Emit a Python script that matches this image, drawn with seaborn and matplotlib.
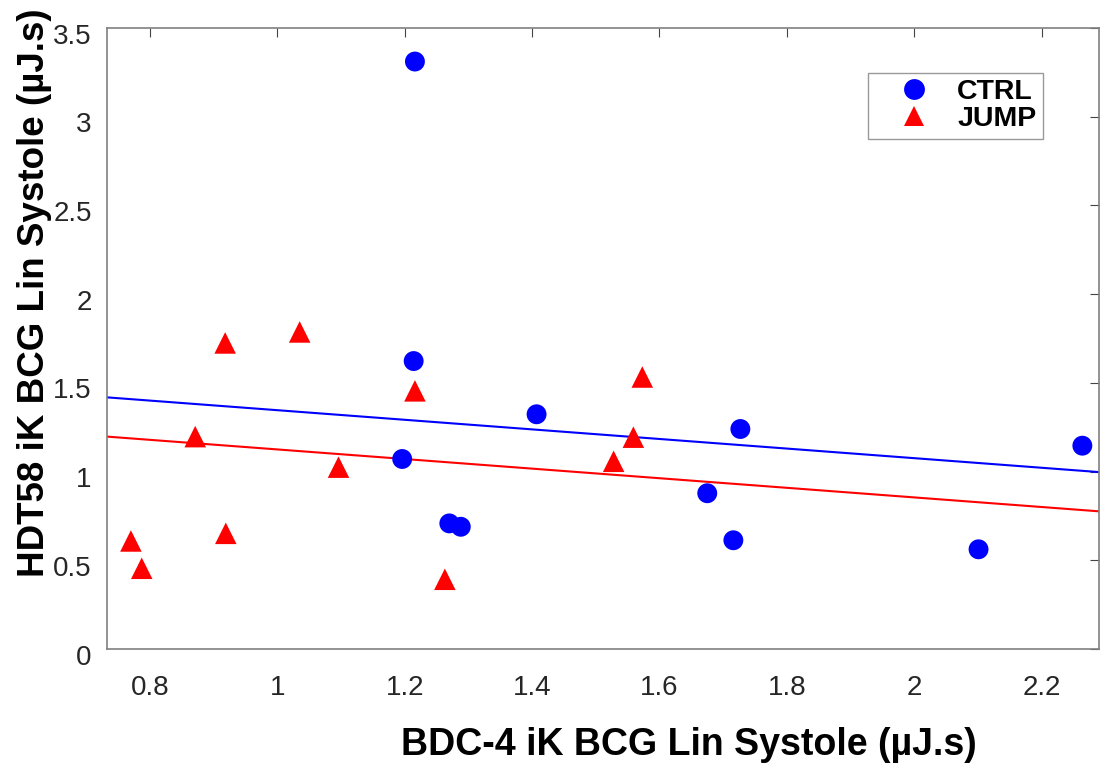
import numpy as np
import pandas as pd
import matplotlib
matplotlib.use("Agg")
import matplotlib.pyplot as plt
import matplotlib.transforms as mtransforms
from matplotlib.lines import Line2D
import seaborn as sns

# ---- data ----
ctrl_x = [1.216, 1.214, 1.196, 1.270, 1.288, 1.407, 1.675, 1.716, 1.727, 2.101, 2.264]
ctrl_y = [3.311, 1.623, 1.071, 0.708, 0.689, 1.323, 0.878, 0.613, 1.240, 0.562, 1.146]
jump_x = [0.918, 1.035, 1.216, 0.871, 1.096, 0.770, 0.787, 0.919, 1.263, 1.573, 1.559, 1.528]
jump_y = [1.725, 1.787, 1.455, 1.197, 1.025, 0.609, 0.455, 0.652, 0.393, 1.533, 1.194, 1.058]
groups = ["CTRL", "JUMP"]
x_ticks = [0.8, 1.0, 1.2, 1.4, 1.6, 1.8, 2.0, 2.2]
x_tick_labels = ["0.8", "1", "1.2", "1.4", "1.6", "1.8", "2", "2.2"]
y_ticks = [0, 0.5, 1, 1.5, 2, 2.5, 3, 3.5]
y_tick_labels = ["0", "0.5", "1", "1.5", "2", "2.5", "3", "3.5"]
x_label = "BDC-4 iK BCG Lin Systole (µJ.s)"
y_label = "HDT58 iK BCG Lin Systole (µJ.s)"

df = pd.DataFrame({
    "x": ctrl_x + jump_x,
    "y": ctrl_y + jump_y,
    "group": ["CTRL"] * len(ctrl_x) + ["JUMP"] * len(jump_x),
})

sns.set_theme(style="white")
plt.rcParams["font.family"] = ["Liberation Sans", "DejaVu Sans"]

colors = {"CTRL": "#0000ff", "JUMP": "#ff0000"}
markers = {"CTRL": "o", "JUMP": "^"}
sizes = {"CTRL": 205, "JUMP": 240}

fig = plt.figure(figsize=(11.01, 7.65), dpi=100)
ax = fig.add_axes([0.0972, 0.1516, 0.9009, 0.8118])

xlim = (0.7325, 2.29)
ylim = (0, 3.5)

# common-slope (ANCOVA) fit lines
sxy = 0.0
sxx = 0.0
means = {}
for g, xs, ys in [("CTRL", ctrl_x, ctrl_y), ("JUMP", jump_x, jump_y)]:
    xa, ya = np.array(xs), np.array(ys)
    means[g] = (xa.mean(), ya.mean())
    sxy += np.sum((xa - xa.mean()) * (ya - ya.mean()))
    sxx += np.sum((xa - xa.mean()) ** 2)
slope = sxy / sxx
xl = np.array(xlim)
for g in groups:
    mx, my = means[g]
    ax.plot(xl, my + slope * (xl - mx), color=colors[g], lw=1.5, zorder=1)

sns.scatterplot(data=df, x="x", y="y", hue="group", style="group", size="group",
                palette=colors, markers=markers, sizes=sizes, linewidth=0,
                legend=False, ax=ax, zorder=3)

ax.set_xlim(*xlim)
ax.set_ylim(*ylim)
ax.set_xticks(x_ticks)
ax.set_xticklabels(x_tick_labels)
ax.set_yticks(y_ticks)
ax.set_yticklabels(y_tick_labels)
ax.tick_params(direction="in", length=6.5, width=0.8, color="#444444",
               labelsize=20, labelcolor="#262626", top=True, right=True)
ax.tick_params(axis="x", pad=19)
ax.tick_params(axis="y", pad=11)
offset = mtransforms.ScaledTranslation(0, -4 / 72, fig.dpi_scale_trans)
for lab in ax.get_yticklabels():
    lab.set_transform(lab.get_transform() + offset)
for s in ax.spines.values():
    s.set_color("#808080")
    s.set_linewidth(1.2)

ax.set_xlabel(x_label, fontsize=27, fontweight="bold", color="black", va="center")
ax.set_ylabel(y_label, fontsize=26.5, fontweight="bold", color="black", va="center")
ax.xaxis.set_label_coords(0.587, -0.155)
ax.yaxis.set_label_coords(-0.0736, 0.573)

handles = [Line2D([0], [0], marker=markers[g], color="none", markerfacecolor=colors[g],
                  markeredgewidth=0, markersize=15) for g in groups]
leg = ax.legend(handles, groups, loc="upper left", bbox_to_anchor=(0.767, 0.9275),
                borderaxespad=0, frameon=True, fancybox=False,
                prop={"size": 20.5, "weight": "bold"}, handlelength=2.8,
                handletextpad=0.12, borderpad=0.22, labelspacing=0.04)
for t in leg.get_texts():
    t.set_color("black")
leg.get_frame().set_edgecolor("#808080")
leg.get_frame().set_linewidth(1.0)

fig.savefig("out.png", dpi=100)
